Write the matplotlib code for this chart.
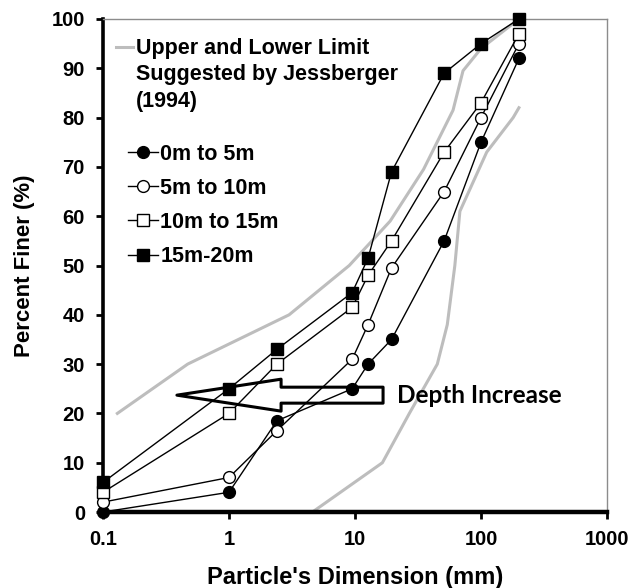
import matplotlib
matplotlib.use("Agg")
import matplotlib.pyplot as plt
from matplotlib.lines import Line2D
from matplotlib.patches import FancyArrowPatch
from matplotlib.ticker import FixedLocator, FixedFormatter, NullLocator

plt.rcParams['font.family'] = ['Liberation Sans', 'DejaVu Sans']
plt.rcParams['font.weight'] = 'bold'

# Particle sizes (mm)
sizes = [0.1, 1, 2.4, 9.5, 12.7, 19.5, 51, 100, 200]

# Percent finer for each depth range
depth_0_5 = [0, 4, 18.5, 25, 30, 35, 55, 75, 92]
depth_5_10 = [2, 7, 16.5, 31, 38, 49.5, 65, 80, 95]
depth_10_15 = [4, 20, 30, 41.5, 48, 55, 73, 83, 97]
depth_15_20 = [6, 25, 33, 44.5, 51.5, 69, 89, 95, 100]

# Jessberger (1994) limits
upper_x = [0.13, 0.47, 3.0, 9.0, 19, 35, 60, 72, 100, 200]
upper_y = [20, 30, 40, 50, 59, 69.5, 81.5, 89.5, 94, 100]
lower_x = [4.6, 16.5, 27, 45, 54, 62, 68, 111, 180, 200]
lower_y = [0, 10, 20, 30, 38, 50, 61, 73, 80, 82]

x_ticks = [0.1, 1, 10, 100, 1000]
x_tick_labels = ['0.1', '1', '10', '100', '1000']
y_ticks = list(range(0, 101, 10))

# Annotation arrow (data coords)
arrow_start = (16.7, 23.7)
arrow_end = (0.386, 23.7)
arrow_text_pos = (21.5, 23.7)

fig = plt.figure(figsize=(6.34, 5.88), dpi=100)
ax = fig.add_axes([103/634, 1-512/588, (607-103)/634, (512-19)/588])

gray = '#bdbdbd'
ax.plot(upper_x, upper_y, color=gray, lw=2.2, zorder=1)
ax.plot(lower_x, lower_y, color=gray, lw=2.2, zorder=1)

ms = 8.5
common = dict(color='black', lw=1.0, mec='black', mew=1.0, ms=ms, zorder=3, clip_on=False)
ax.plot(sizes, depth_0_5, marker='o', mfc='black', **common)
ax.plot(sizes, depth_5_10, marker='o', mfc='white', **common)
ax.plot(sizes, depth_10_15, marker='s', mfc='white', **common)
ax.plot(sizes, depth_15_20, marker='s', mfc='black', **common)

ax.set_xscale('log')
ax.set_xlim(0.1, 1000)
ax.set_ylim(0, 100)
ax.xaxis.set_major_locator(FixedLocator(x_ticks))
ax.xaxis.set_major_formatter(FixedFormatter(x_tick_labels))
ax.xaxis.set_minor_locator(NullLocator())
ax.set_yticks(y_ticks)

for s in ['left', 'bottom']:
    ax.spines[s].set_color('black')
ax.spines['left'].set_linewidth(2.6)
ax.spines['bottom'].set_linewidth(3.2)
for s in ['top', 'right']:
    ax.spines[s].set_color('#8c8c8c')
    ax.spines[s].set_linewidth(1.0)

ax.tick_params(axis='both', direction='out', length=5, width=2, color='black',
               labelsize=14.5, top=False, right=False)
ax.tick_params(axis='x', pad=8)
ax.tick_params(axis='y', pad=8)

ax.set_xlabel("Particle's Dimension (mm)", fontsize=17, fontweight='bold', labelpad=12)
ax.set_ylabel("Percent Finer (%)", fontsize=16, fontweight='bold', labelpad=12)

# Arrow
arrow = FancyArrowPatch(arrow_start, arrow_end,
                        arrowstyle='simple,head_length=75,head_width=23,tail_width=11.5',
                        mutation_scale=1, shrinkA=0, shrinkB=0,
                        fc='white', ec='black', lw=2.2, zorder=2)
ax.add_patch(arrow)
ax.text(arrow_text_pos[0], arrow_text_pos[1], 'Depth Increase', family=['Lato', 'DejaVu Sans'],
        fontweight='bold', fontsize=17.5, va='center', ha='left', color='black', zorder=4)

# Legend 1: limits
h_gray = Line2D([], [], color=gray, lw=2.2)
h_blank = Line2D([], [], color='none')
leg1 = ax.legend([h_gray, h_blank, h_blank],
                 ['Upper and Lower Limit', 'Suggested by Jessberger', '(1994)'],
                 loc='upper left', bbox_to_anchor=(0.025, 0.961), frameon=False,
                 prop={'size': 15.5, 'weight': 'bold'}, handlelength=0.8,
                 handletextpad=0.15, labelspacing=0.24, borderpad=0, borderaxespad=0)
ax.add_artist(leg1)

lk = dict(color='black', lw=1.0, mec='black', mew=1.0, ms=ms)
handles = [Line2D([], [], marker='o', mfc='black', **lk),
           Line2D([], [], marker='o', mfc='white', **lk),
           Line2D([], [], marker='s', mfc='white', **lk),
           Line2D([], [], marker='s', mfc='black', **lk)]
labels = ['0m to 5m', '5m to 10m', '10m to 15m', '15m-20m']
ax.legend(handles, labels, loc='upper left', bbox_to_anchor=(0.05, 0.747), frameon=False,
          prop={'size': 15.5, 'weight': 'bold'}, handlelength=1.4,
          handletextpad=0.1, labelspacing=0.61, borderpad=0, borderaxespad=0)

fig.savefig('out.png', dpi=100)
